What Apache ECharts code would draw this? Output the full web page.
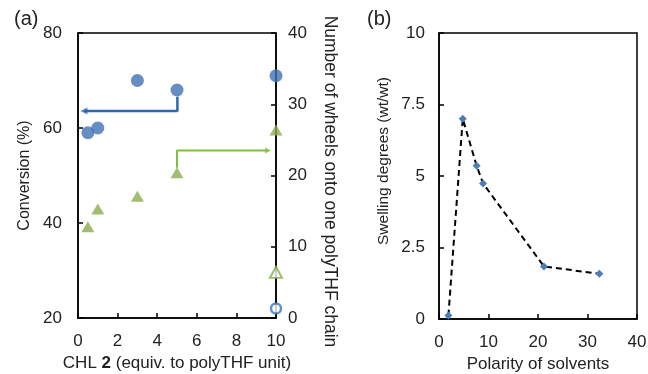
<!DOCTYPE html>
<html>
<head>
<meta charset="utf-8">
<script src="https://cdn.jsdelivr.net/npm/echarts@6/dist/echarts.min.js"></script>
<style>
  html, body { margin: 0; padding: 0; background: #fff; }
  #chart { width: 648px; height: 374px; }
</style>
</head>
<body>
<div id="chart"></div>
<script>
// panel (a): conversion (left axis) and wheels per chain (right axis)
const chlEquiv = [0.5, 1, 3, 5, 10];
const conversion = [59, 60, 70, 68, 71];
const conversionOpen = [[10, 22]];
const wheels = [12.8, 15.3, 17.1, 20.4, 26.4];
const wheelsOpen = [[10, 6.4]];
// arrows pointing to the axis each series belongs to
const blueArrow = [[5.02, 66.6], [5.02, 63.6], [0.3, 63.6]];
const greenArrow = [[5, 21.1], [5, 23.5], [9.6, 23.5]];

// panel (b): swelling vs solvent polarity
const polarity = [1.9, 4.8, 7.6, 8.9, 21.2, 32.4];
const swelling = [0.12, 7.0, 5.36, 4.74, 1.84, 1.58];

const TXT = "#222";
const FONT = "Liberation Sans, Arial, sans-serif";

const chart = echarts.init(document.getElementById("chart"));

const axisBase = {
    axisLine: { show: true, lineStyle: { color: "#000", width: 1.5 } },
    axisTick: { show: true, inside: true, length: 5, lineStyle: { color: "#000", width: 1.5 } },
    axisLabel: { color: TXT, fontSize: 17, fontFamily: FONT },
    splitLine: { show: false },
    nameTextStyle: { color: TXT, fontSize: 16, fontFamily: FONT },
    nameLocation: "middle",
};

const option = {
    backgroundColor: "#fff",
    animation: false,
    textStyle: { fontFamily: FONT },
    title: [
        { text: "(a)", left: 9, top: 4, textStyle: { color: TXT, fontSize: 20, fontWeight: "normal", fontFamily: FONT } },
        { text: "(b)", left: 362, top: 4, textStyle: { color: TXT, fontSize: 20, fontWeight: "normal", fontFamily: FONT } },
    ],
    grid: [
        { left: 78, top: 33, width: 198, height: 285, outerBoundsMode: "none", show: true, borderColor: "#000", borderWidth: 1.5 },
        { left: 439, top: 33, width: 198, height: 286, outerBoundsMode: "none", show: true, borderColor: "#000", borderWidth: 1.5 },
    ],
    xAxis: [
        {
            ...axisBase, gridIndex: 0, type: "value", min: 0, max: 10, interval: 2,
            axisLabel: { ...axisBase.axisLabel, margin: 15 },
            name: "CHL {b|2} (equiv. to polyTHF unit)", nameGap: 31,
            nameTextStyle: {
                ...axisBase.nameTextStyle, fontSize: 17,
                rich: { b: { fontWeight: "bold", fontSize: 17, color: TXT, fontFamily: FONT } },
            },
        },
        {
            ...axisBase, gridIndex: 1, type: "value", min: 0, max: 40, interval: 10,
            axisLabel: { ...axisBase.axisLabel, margin: 15 },
            name: "Polarity of solvents", nameGap: 34,
            nameTextStyle: { ...axisBase.nameTextStyle, fontSize: 17 },
        },
    ],
    yAxis: [
        {
            ...axisBase, gridIndex: 0, type: "value", min: 20, max: 80, interval: 20,
            axisLabel: { ...axisBase.axisLabel, margin: 16 },
            name: "Conversion (%)", nameGap: 45,
        },
        {
            ...axisBase, gridIndex: 0, type: "value", position: "right", min: 0, max: 40, interval: 10,
            axisLabel: { ...axisBase.axisLabel, margin: 12 },
            name: "Number of wheels onto one polyTHF chain", nameGap: 45, nameRotate: -90,
            nameTextStyle: { ...axisBase.nameTextStyle, fontSize: 17.5, padding: [0, 0, 0, 12] },
        },
        {
            ...axisBase, gridIndex: 1, type: "value", min: 0, max: 10, interval: 2.5,
            axisLabel: { ...axisBase.axisLabel, margin: 14 },
            name: "Swelling degrees (wt/wt)", nameGap: 47,
            nameTextStyle: { ...axisBase.nameTextStyle, fontSize: 15.5, padding: [0, 0, 0, 30] },
        },
    ],
    series: [
        {
            type: "line", xAxisIndex: 0, yAxisIndex: 0, symbol: "none",
            lineStyle: { color: "#2b69b2", width: 2.5 },
            data: blueArrow, z: 3,
        },
        {
            type: "scatter", xAxisIndex: 0, yAxisIndex: 0, symbol: "triangle",
            symbolSize: [7, 7], symbolRotate: 90,
            itemStyle: { color: "#2b69b2" }, data: [blueArrow[2]], z: 3,
        },
        {
            type: "line", xAxisIndex: 0, yAxisIndex: 1, symbol: "none",
            lineStyle: { color: "#7cc242", width: 2 },
            data: greenArrow, z: 3,
        },
        {
            type: "scatter", xAxisIndex: 0, yAxisIndex: 1, symbol: "triangle",
            symbolSize: [6, 6], symbolRotate: -90,
            itemStyle: { color: "#7cc242" }, data: [greenArrow[2]], z: 3,
        },
        {
            type: "scatter", xAxisIndex: 0, yAxisIndex: 0, symbol: "circle", symbolSize: 13,
            itemStyle: { color: "#4172b4" }, z: 5,
            data: chlEquiv.map((x, i) => [x, conversion[i]]),
        },
        {
            type: "scatter", xAxisIndex: 0, yAxisIndex: 0, symbol: "circle", symbolSize: 10,
            itemStyle: { color: "#fff", borderColor: "#3c74bc", borderWidth: 2.5 }, z: 5,
            data: conversionOpen,
        },
        {
            type: "scatter", xAxisIndex: 0, yAxisIndex: 1, symbol: "triangle", symbolSize: [13, 11],
            itemStyle: { color: "#8cad4c" }, z: 5,
            data: chlEquiv.map((x, i) => [x, wheels[i]]),
        },
        {
            type: "scatter", xAxisIndex: 0, yAxisIndex: 1, symbol: "triangle", symbolSize: [12, 11],
            itemStyle: { color: "#fff", borderColor: "#86ab49", borderWidth: 2 }, z: 5,
            data: wheelsOpen,
        },
        {
            type: "line", xAxisIndex: 1, yAxisIndex: 2, symbol: "diamond", symbolSize: 8,
            itemStyle: { color: "#4a7ebb" },
            lineStyle: { color: "#000", width: 2, type: [6, 4] },
            data: polarity.map((x, i) => [x, swelling[i]]), z: 5,
        },
    ],
};

chart.setOption(option);
</script>
</body>
</html>
